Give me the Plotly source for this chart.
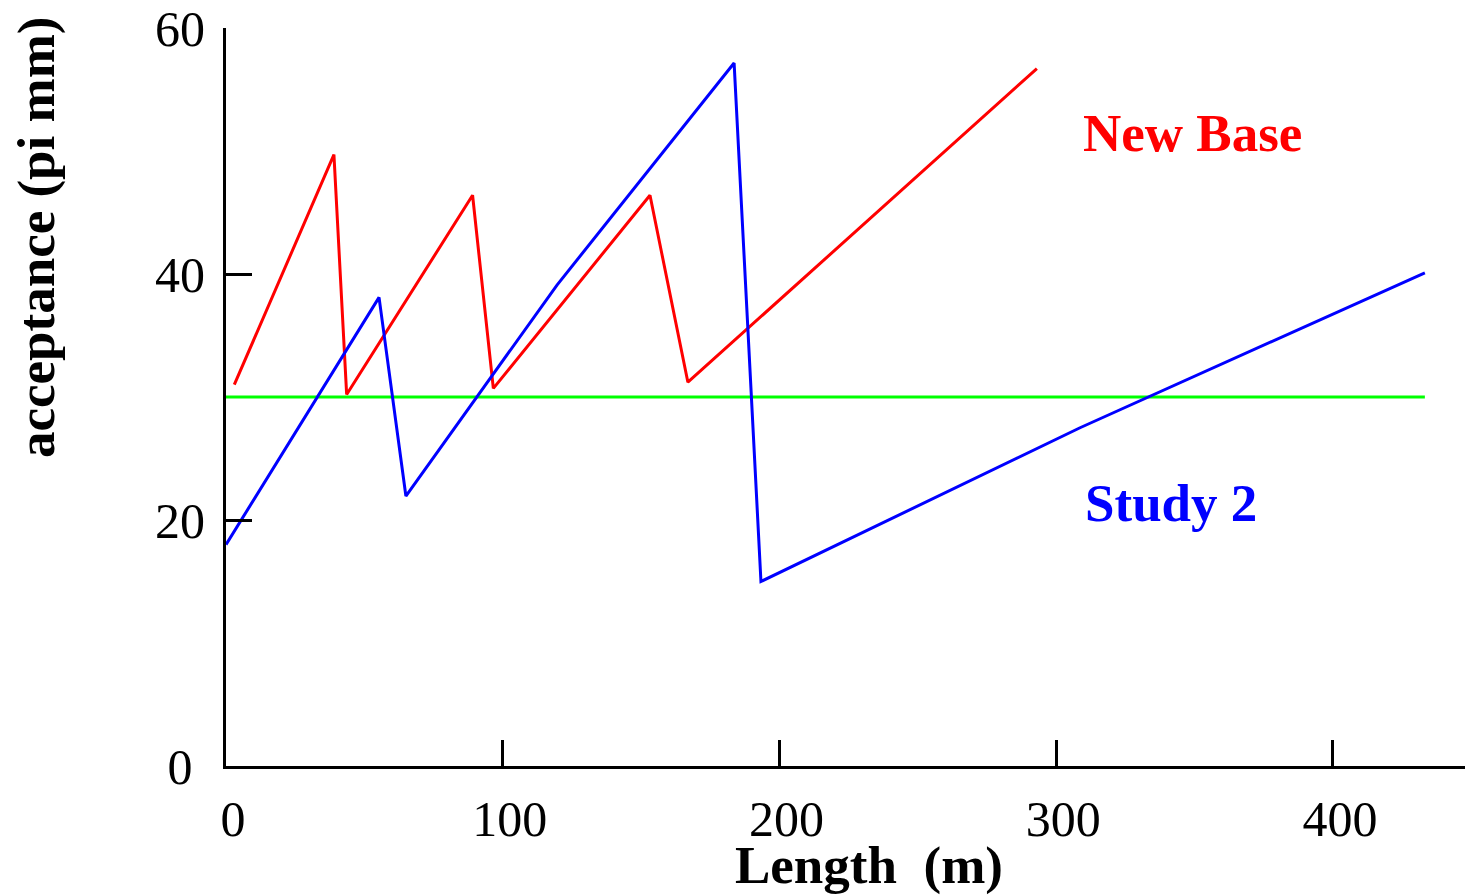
import plotly.graph_objects as go

# Data
red_x = [3, 39, 43.6, 89.1, 96.6, 153.2, 166.9, 293]
red_y = [31.0, 49.7, 30.2, 46.4, 30.7, 46.4, 31.2, 56.7]

blue_x = [0, 55.3, 65, 119.6, 183.6, 193.3, 308.6, 433.2]
blue_y = [18.0, 38.1, 21.95, 39.1, 57.15, 15.0, 27.5, 40.1]

green_x = [0, 433.2]
green_y = [30, 30]

x_ticks = [0, 100, 200, 300, 400]
y_ticks = [0, 20, 40, 60]
y_ticktext = ["0\u00a0", "20", "40", "60"]

FONT = "Liberation Serif, Times New Roman, serif"

fig = go.Figure()
fig.add_trace(go.Scatter(x=green_x, y=green_y, mode="lines",
                         line=dict(color="#00ff00", width=3), showlegend=False))
fig.add_trace(go.Scatter(x=red_x, y=red_y, mode="lines",
                         line=dict(color="#ff0000", width=3), showlegend=False))
fig.add_trace(go.Scatter(x=blue_x, y=blue_y, mode="lines",
                         line=dict(color="#0000ff", width=3), showlegend=False))

axis_common = dict(showgrid=False, zeroline=False, showline=True, linecolor="black",
                   linewidth=3, ticks="inside", ticklen=26, tickwidth=3, tickcolor="black",
                   tickfont=dict(family=FONT, size=50, color="black"))

fig.update_xaxes(range=[0, 447.7], tickvals=x_ticks, ticktext=[str(v) for v in x_ticks],
                 ticklabelshift=7, ticklabelstandoff=7, **axis_common)
fig.update_yaxes(range=[0, 60], tickvals=y_ticks, ticktext=y_ticktext,
                 ticklabelstandoff=8, **axis_common)

fig.add_annotation(text="<b>New Base</b>", x=349.2, y=51.5, xref="x", yref="y",
                   showarrow=False, xanchor="center", yanchor="middle",
                   font=dict(family=FONT, size=53, color="#ff0000"))
fig.add_annotation(text="<b>Study 2</b>", x=341.5, y=21.4, xref="x", yref="y",
                   showarrow=False, xanchor="center", yanchor="middle",
                   font=dict(family=FONT, size=53, color="#0000ff"))
fig.add_annotation(text="<b>Length\u00a0\u00a0(m)</b>", x=869, y=865, xref="paper", yref="paper",
                   showarrow=False, xanchor="center", yanchor="middle",
                   font=dict(family=FONT, size=53, color="black"))
fig.add_annotation(text="<b>acceptance (pi mm)</b>", x=36, y=237, xref="paper", yref="paper",
                   showarrow=False, xanchor="center", yanchor="middle", textangle=-90,
                   font=dict(family=FONT, size=53, color="black"))

# convert pixel positions of the title annotations to paper coords
W, H = 1465, 896
L, R, T, B = 226, 0, 28, 130
pw, ph = W - L - R, H - T - B
for ann in fig.layout.annotations[2:]:
    ann.x = (ann.x - L) / pw
    ann.y = (H - B - ann.y) / ph

fig.update_layout(width=W, height=H, margin=dict(l=L, r=R, t=T, b=B),
                  plot_bgcolor="white", paper_bgcolor="white")

fig.write_html("out.html")
